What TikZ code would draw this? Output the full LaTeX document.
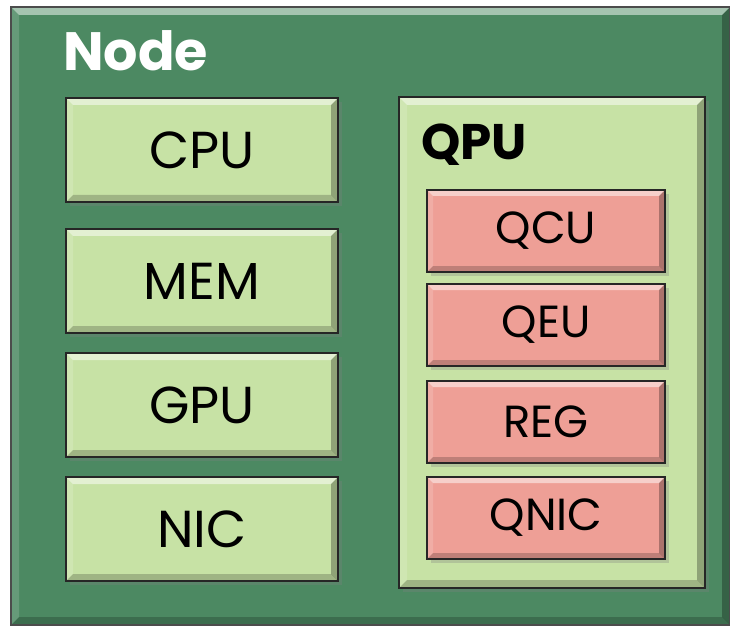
\documentclass[tikz,border=0pt]{standalone}
\usepackage{fontspec}
\setmainfont{Poppins}
\usetikzlibrary{positioning,shadows}
\definecolor{NodeGreen}{RGB}{76,137,98}
\definecolor{PartGreen}{RGB}{199,226,165}
\definecolor{QuantPink}{RGB}{238,159,150}
\tikzset{
  bevel/.style   = {path picture={
      \path (path picture bounding box.north west) coordinate (p1)
            (path picture bounding box.north east) coordinate (p2)
            (path picture bounding box.south east) coordinate (p3)
            (path picture bounding box.south west) coordinate (p4);
      \fill[white, opacity=.5] (p1) -- (p2) -- ([shift={(-#1,-#1)}]p2) -- ([shift={(#1,-#1)}]p1) -- cycle;
      \fill[white, opacity=.15] (p1) -- ([shift={(#1,-#1)}]p1) -- ([shift={(#1,#1)}]p4) -- (p4) -- cycle;
      \fill[black, opacity=.28] (p2) -- (p3) -- ([shift={(-#1,#1)}]p3) -- ([shift={(-#1,-#1)}]p2) -- cycle;
      \fill[black, opacity=.20] (p4) -- (p3) -- ([shift={(-#1,#1)}]p3) -- ([shift={(#1,#1)}]p4) -- cycle;
  }},
  shade3d/.style = {drop shadow={shadow xshift=4pt, shadow yshift=-4pt, opacity=.3}},
  frame/.style   = {draw=black!70, line width=1.6pt, fill=NodeGreen, bevel=8pt,
                    minimum width=719pt, minimum height=618pt, inner sep=0pt},
  part/.style    = {draw=black!85, line width=1.3pt, fill=PartGreen, shade3d, bevel=7pt,
                    minimum width=272pt, minimum height=104pt,
                    font=\fontsize{52}{52}\selectfont},
  qpart/.style   = {draw=black!85, line width=1.3pt, fill=QuantPink, shade3d, bevel=6pt,
                    minimum width=238pt, minimum height=82pt,
                    font=\fontsize{45}{45}\selectfont},
  title/.style   = {anchor=base west, inner sep=0pt, font=\fontsize{54}{54}\selectfont\bfseries}
}
\begin{document}
\begin{tikzpicture}[x=1pt, y=-1pt]
\path[use as bounding box, fill=white] (0,0) rectangle (730,628);
\node[frame] (frame) at (370.5,316) {};
\node[title, text=white] (nodelbl) at (63,71) {Node};
\node[part] (cpu) at (202,150) {CPU};
\node[part] (mem) at (202,281) {MEM};
\node[part] (gpu) at (202,405) {GPU};
\node[part] (nic) at (202,529) {NIC};
\node[part, minimum width=306pt, minimum height=491pt, bevel=8pt] (qpu) at (552,342.5) {};
\node[title, font=\fontsize{50}{50}\selectfont\bfseries] (qpulbl) at (421,160) {QPU};
\node[qpart] (qcu) at (546,231) {QCU};
\node[qpart] (qeu) at (546,325) {QEU};
\node[qpart] (reg) at (546,422) {REG};
\node[qpart] (qnic) at (546,518) {QNIC};
\end{tikzpicture}
\end{document}
